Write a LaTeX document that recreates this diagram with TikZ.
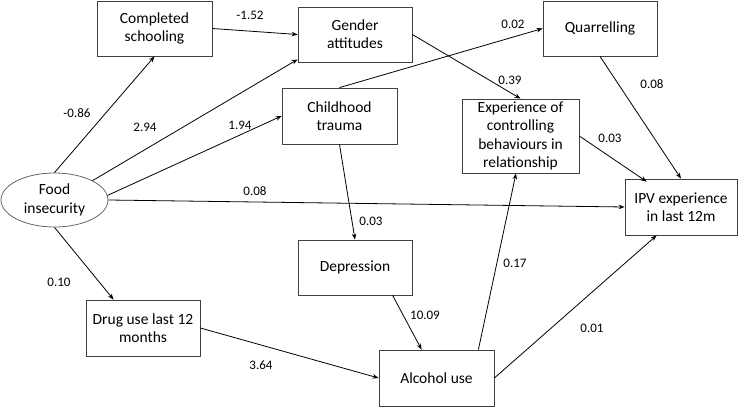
\documentclass[tikz,border=0pt]{standalone}
\usepackage{fontspec}
\setmainfont{Carlito}
\usetikzlibrary{arrows.meta,shapes.geometric,calc}
\begin{document}
\begin{tikzpicture}[x=1pt,y=-1pt,
  box/.style={draw=black!75,line width=0.8pt,rectangle,align=center,inner sep=2pt,font=\fontsize{15.5}{18.3}\selectfont},
  oval/.style={draw=black!60,line width=0.8pt,ellipse,align=center,inner sep=0pt,font=\fontsize{15.5}{18.3}\selectfont,minimum width=107pt,minimum height=54pt},
  conn/.style={line width=0.8pt,-{Stealth[length=6pt,width=4.5pt]}},
  lbl/.style={font=\fontsize{13}{15}\selectfont,inner sep=1pt}]
\useasboundingbox (0,0) rectangle (740,407);
% nodes
\node[box,minimum width=115pt,minimum height=55pt] (cs) at (154.5,28.5) {Completed\\schooling};
\node[box,minimum width=114pt,minimum height=55pt] (ga) at (355,34.5) {Gender\\attitudes};
\node[box,minimum width=115pt,minimum height=56pt] (ct) at (339.5,116) {Childhood\\trauma};
\node[box,minimum width=114pt,minimum height=55pt] (qu) at (600,28.5) {Quarrelling};
\node[box,minimum width=117pt,minimum height=74pt] (ex) at (520.5,136) {Experience of\\controlling\\behaviours in\\relationship};
\node[box,minimum width=112pt,minimum height=56pt] (ipv) at (681,207) {IPV experience\\in last 12m};
\node[oval] (fi) at (54.5,200) {Food\\insecurity};
\node[box,minimum width=114pt,minimum height=56pt] (du) at (143,328) {Drug use last 12\\months};
\node[box,minimum width=114pt,minimum height=55pt] (de) at (355,267.5) {Depression};
\node[box,minimum width=115pt,minimum height=56pt] (al) at (436.5,378) {Alcohol use};
% connectors
\draw[conn] (fi.north) -- (cs.south);
\draw[conn] (fi.27) -- ([yshift=3pt]ga.south west);
\draw[conn] (fi.5) -- (ct.west);
\draw[conn] (fi.east) -- (ipv.west);
\draw[conn] (fi.south) -- ([xshift=28pt]du.north west);
\draw[conn] (cs.east) -- (ga.west);
\draw[conn] (ct.north) -- (qu.west);
\draw[conn] (ga.east) -- (ex.north);
\draw[conn] (ct.south) -- (de.north);
\draw[conn] (qu.south) -- (ipv.north);
\draw[conn] (ex.east) -- ([xshift=22pt,yshift=-3pt]ipv.north west);
\draw[conn] ([xshift=95pt]de.south west) -- ([xshift=43pt]al.north west);
\draw[conn] (du.east) -- (al.west);
\draw[conn] ([xshift=-16pt]al.north east) -- ([xshift=-4.5pt]ex.south);
\draw[conn] (al.east) -- ([xshift=32pt]ipv.south west);
% labels
\node[lbl] (l1) at (77,113) {-0.86};
\node[lbl] (l2) at (145,127) {2.94};
\node[lbl] (l3) at (240,125) {1.94};
\node[lbl] (l4) at (255,191) {0.08};
\node[lbl] (l5) at (59,282) {0.10};
\node[lbl] (l6) at (250,15) {-1.52};
\node[lbl] (l7) at (513,24) {0.02};
\node[lbl] (l8) at (510,80) {0.39};
\node[lbl] (l9) at (371,221) {0.03};
\node[lbl] (l10) at (652,84) {0.08};
\node[lbl] (l11) at (610,138) {0.03};
\node[lbl] (l12) at (425,315) {10.09};
\node[lbl] (l13) at (261,365) {3.64};
\node[lbl] (l14) at (515,263) {0.17};
\node[lbl] (l15) at (592,328) {0.01};
\end{tikzpicture}
\end{document}
